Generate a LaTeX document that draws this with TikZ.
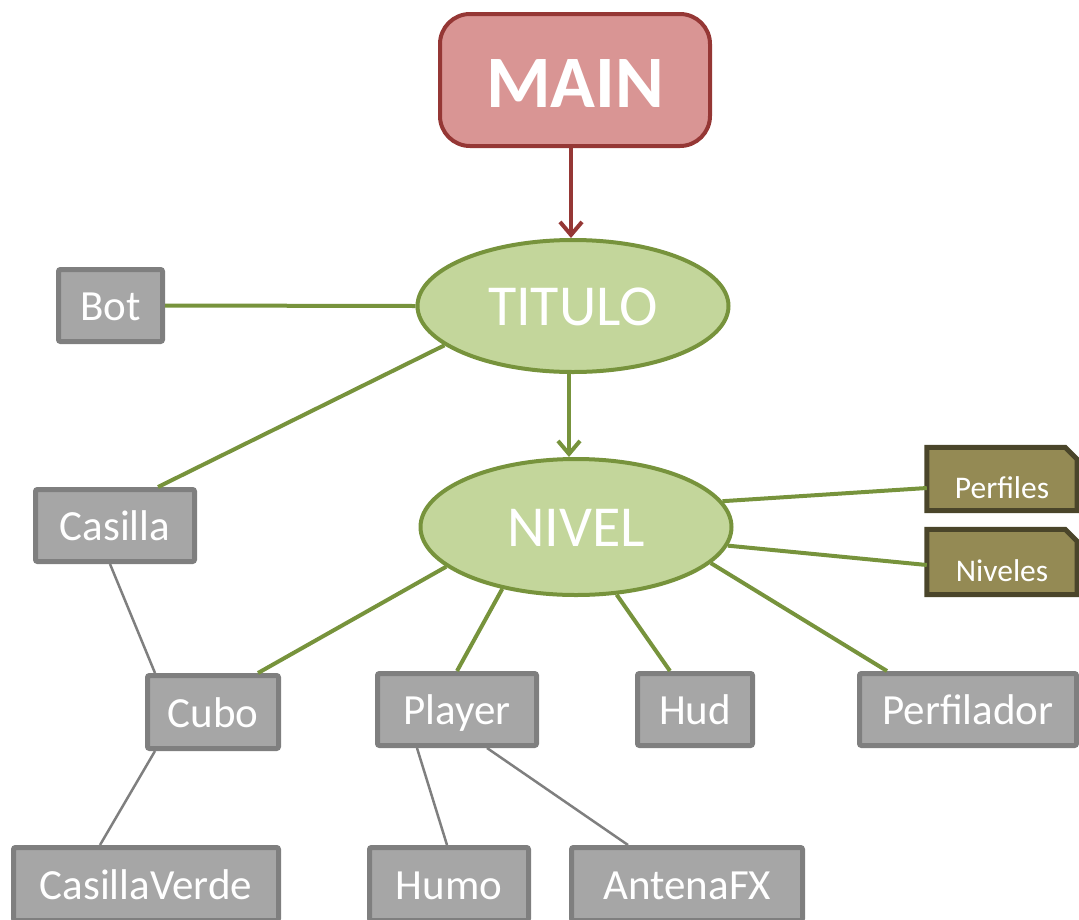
\documentclass[tikz,border=0pt]{standalone}
\usepackage{fontspec}
\setmainfont{Carlito}
\usetikzlibrary{arrows.meta,shapes.geometric}
\definecolor{mainfill}{HTML}{D99594}
\definecolor{mainline}{HTML}{953735}
\definecolor{ellfill}{HTML}{C3D69B}
\definecolor{ellline}{HTML}{77933C}
\definecolor{boxfill}{HTML}{A6A6A6}
\definecolor{boxline}{HTML}{7F7F7F}
\definecolor{snipfill}{HTML}{948A54}
\definecolor{snipline}{HTML}{4A452A}
\begin{document}
\begin{tikzpicture}[x=1pt,y=-1pt,
  mainbox/.style={rectangle, rounded corners=30pt, fill=mainfill, draw=mainline, line width=4pt, text=white, inner sep=0pt, font=\fontsize{74}{80}\selectfont\bfseries, text height=55.7pt, text depth=0pt},
  ellnode/.style={ellipse, fill=ellfill, draw=ellline, line width=4pt, text=white, inner sep=0pt, font=\fontsize{58}{62}\selectfont, text height=39.4pt, text depth=0pt},
  graybox/.style={rectangle, rounded corners=2pt, fill=boxfill, draw=boxline, line width=5pt, text=white, inner sep=0pt, font=\fontsize{43}{48}\selectfont, text height=30.7pt, text depth=0pt},
  snipbox/.style={fill=snipfill, draw=snipline, line width=5pt, line join=miter},
  sniptext/.style={text=white, inner sep=0pt, font=\fontsize{31.5}{34}\selectfont},
  greenline/.style={draw=ellline, line width=4pt},
  grayline/.style={draw=boxline, line width=2.5pt},
  arrowtip/.style={-{Straight Barb[length=13pt,width=22pt]}, line width=4pt}
]
\useasboundingbox (0,0) rectangle (1079,919);
\clip (0,0) rectangle (1079,919);

% main nodes
\node[mainbox, minimum width=270pt, minimum height=132pt] (main) at (575,80) {MAIN};
\node[ellnode, minimum width=311pt, minimum height=132pt] (titulo) at (573,306) {TITULO};
\node[ellnode, minimum width=311pt, minimum height=136pt] (nivel) at (576,527) {NIVEL};

% gray boxes
\node[graybox, minimum width=104pt, minimum height=72pt] (bot) at (110.5,305.5) {Bot};
\node[graybox, minimum width=159pt, minimum height=72pt] (casilla) at (115,525.5) {Casilla};
\node[graybox, minimum width=131pt, minimum height=73pt] (cubo) at (213,712) {Cubo};
\node[graybox, minimum width=159pt, minimum height=72pt] (player) at (457,709.5) {Player};
\node[graybox, minimum width=115pt, minimum height=72pt] (hud) at (695,709.5) {Hud};
\node[graybox, minimum width=217pt, minimum height=72pt] (perfilador) at (968,709.5) {Perfilador};
\node[graybox, minimum width=265pt, minimum height=73pt] (casillaverde) at (146,884) {CasillaVerde};
\node[graybox, minimum width=159pt, minimum height=73pt] (humo) at (449,884) {Humo};
\node[graybox, minimum width=231pt, minimum height=73pt] (antena) at (687,884) {AntenaFX};

% snipped boxes
\node[inner sep=0pt, minimum width=150pt, minimum height=63pt] (perfiles) at (1002,479) {};
\draw[snipbox] (perfiles.south west) -- (perfiles.north west) -- ([xshift=-12pt]perfiles.north east) -- ([yshift=-12pt]perfiles.north east) -- (perfiles.south east) -- cycle;
\node[sniptext] (perfilesT) at ([yshift=-9pt]perfiles.center) {Perfiles};
\node[inner sep=0pt, minimum width=150pt, minimum height=65pt] (niveles) at (1002,562) {};
\draw[snipbox] (niveles.south west) -- (niveles.north west) -- ([xshift=-12pt]niveles.north east) -- ([yshift=-12pt]niveles.north east) -- (niveles.south east) -- cycle;
\node[sniptext] (nivelesT) at ([yshift=-9pt]niveles.center) {Niveles};

% arrows
\draw[arrowtip, draw=mainline] ([xshift=-4pt]main.south) -- ([xshift=-2pt]titulo.north);
\draw[arrowtip, draw=ellline] ([xshift=-4pt]titulo.south) -- ([xshift=-7pt]nivel.north);

% green connectors
\draw[greenline] (bot.east) -- (titulo.west);
\draw[greenline] (titulo.197) -- ([xshift=43pt]casilla.north);
\draw[greenline] (nivel.197) -- ([xshift=45pt]cubo.north);
\draw[greenline] (nivel.220) -- (player.north);
\draw[greenline] (nivel.301) -- ([xshift=-25pt]hud.north);
\draw[greenline] (nivel.345) -- ([xshift=-81pt]perfilador.north);
\draw[greenline] (nivel.10) -- ([yshift=-9pt]perfiles.west);
\draw[greenline] (nivel.353) -- ([yshift=-3pt]niveles.west);

% gray connectors
\draw[grayline] ([xshift=-5pt]casilla.south) -- ([xshift=-58pt]cubo.north);
\draw[grayline] ([xshift=-58pt]cubo.south) -- ([xshift=-46pt]casillaverde.north);
\draw[grayline] ([xshift=-40pt]player.south) -- ([xshift=-2pt]humo.north);
\draw[grayline] ([xshift=30pt]player.south) -- ([xshift=-59pt]antena.north);
\end{tikzpicture}
\end{document}
